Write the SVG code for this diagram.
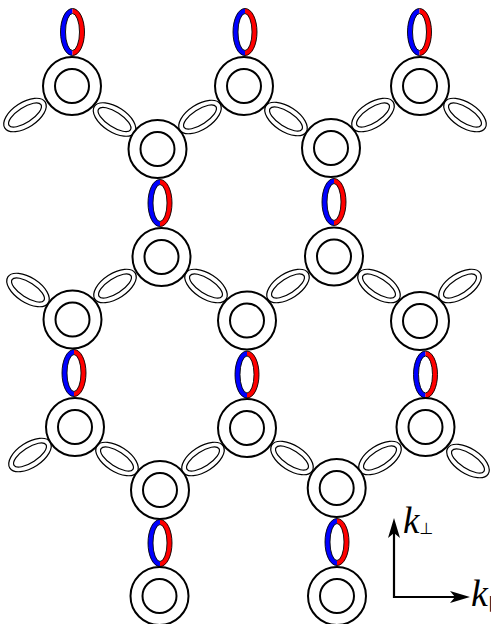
<svg xmlns="http://www.w3.org/2000/svg" xmlns:xlink="http://www.w3.org/1999/xlink" width="491" height="624" viewBox="0 0 491 624">
<style>
.nc{fill:#fff;stroke:#000;stroke-width:2}
.tel{fill:#fff;stroke:#000;stroke-width:1.2}
.bl{fill:none;stroke:#0000ff;stroke-width:5}
.rd{fill:none;stroke:#ff0000;stroke-width:5}
.ol{fill:none;stroke:#000;stroke-width:0.9}
.ax{fill:none;stroke:#000;stroke-width:2.2}
.lbl{font-family:"Liberation Serif",serif;font-style:italic;fill:#000}
</style>
<defs>
<g id="vr">
<ellipse rx="12" ry="23.5" fill="#fff" stroke="none"/>
<path class="bl" d="M0,-21 A9.5,21 0 0 0 0,21"/>
<path class="rd" d="M0,-21 A9.5,21 0 0 1 0,21"/>
<ellipse class="ol" rx="12" ry="23.5"/>
<ellipse class="ol" rx="7" ry="18.5"/>
</g>
<g id="te"><ellipse class="tel" rx="24" ry="12.5"/><ellipse class="tel" rx="19" ry="7.5"/></g>
<g id="nd"><circle class="nc" r="29"/><circle class="nc" r="17"/></g>
<marker id="ah" viewBox="0 0 20 12" refX="5" refY="6" markerWidth="20" markerHeight="12" markerUnits="userSpaceOnUse" orient="auto-start-reverse">
<path d="M0,0 L20,6 L0,12 L5,6 z" fill="#000"/>
</marker>
</defs>
<g id="connectors">
<use xlink:href="#vr" href="#vr" transform="translate(72.5,32)"/>
<use xlink:href="#vr" href="#vr" transform="translate(245,32)"/>
<use xlink:href="#vr" href="#vr" transform="translate(419.5,32)"/>
<use xlink:href="#vr" href="#vr" transform="translate(160,203)"/>
<use xlink:href="#vr" href="#vr" transform="translate(334,202)"/>
<use xlink:href="#vr" href="#vr" transform="translate(74,373)"/>
<use xlink:href="#vr" href="#vr" transform="translate(247,374.5)"/>
<use xlink:href="#vr" href="#vr" transform="translate(425.5,374.5)"/>
<use xlink:href="#vr" href="#vr" transform="translate(160,543)"/>
<use xlink:href="#vr" href="#vr" transform="translate(337,542)"/>
<use xlink:href="#te" href="#te" transform="translate(25,115) rotate(-33)"/>
<use xlink:href="#te" href="#te" transform="translate(114.5,119.5) rotate(33)"/>
<use xlink:href="#te" href="#te" transform="translate(200,117) rotate(-33)"/>
<use xlink:href="#te" href="#te" transform="translate(286,119) rotate(33)"/>
<use xlink:href="#te" href="#te" transform="translate(373,115) rotate(-33)"/>
<use xlink:href="#te" href="#te" transform="translate(465,115) rotate(33)"/>
<use xlink:href="#te" href="#te" transform="translate(28,290) rotate(33)"/>
<use xlink:href="#te" href="#te" transform="translate(115,286) rotate(-33)"/>
<use xlink:href="#te" href="#te" transform="translate(206,286) rotate(33)"/>
<use xlink:href="#te" href="#te" transform="translate(288,286) rotate(-33)"/>
<use xlink:href="#te" href="#te" transform="translate(379,286) rotate(33)"/>
<use xlink:href="#te" href="#te" transform="translate(460,286) rotate(-33)"/>
<use xlink:href="#te" href="#te" transform="translate(30,455) rotate(-33)"/>
<use xlink:href="#te" href="#te" transform="translate(117,459) rotate(33)"/>
<use xlink:href="#te" href="#te" transform="translate(203,459) rotate(-33)"/>
<use xlink:href="#te" href="#te" transform="translate(292,458) rotate(33)"/>
<use xlink:href="#te" href="#te" transform="translate(380,458) rotate(-33)"/>
<use xlink:href="#te" href="#te" transform="translate(468,461) rotate(33)"/>
</g>
<g id="n1"><use xlink:href="#nd" href="#nd" x="72" y="86"/></g>
<g id="n2"><use xlink:href="#nd" href="#nd" x="244" y="86"/></g>
<g id="n3"><use xlink:href="#nd" href="#nd" x="420" y="86"/></g>
<g id="n4"><use xlink:href="#nd" href="#nd" x="157.5" y="149"/></g>
<g id="n5"><use xlink:href="#nd" href="#nd" x="331" y="148"/></g>
<g id="n6"><use xlink:href="#nd" href="#nd" x="161.5" y="257"/></g>
<g id="n7"><use xlink:href="#nd" href="#nd" x="334" y="256.5"/></g>
<g id="n8"><use xlink:href="#nd" href="#nd" x="72.5" y="319.5"/></g>
<g id="n9"><use xlink:href="#nd" href="#nd" x="247" y="320.5"/></g>
<g id="n10"><use xlink:href="#nd" href="#nd" x="420" y="321"/></g>
<g id="n11"><use xlink:href="#nd" href="#nd" x="75" y="427"/></g>
<g id="n12"><use xlink:href="#nd" href="#nd" x="247" y="428"/></g>
<g id="n13"><use xlink:href="#nd" href="#nd" x="425.5" y="427"/></g>
<g id="n14"><use xlink:href="#nd" href="#nd" x="160" y="490"/></g>
<g id="n15"><use xlink:href="#nd" href="#nd" x="336.7" y="488"/></g>
<g id="n16"><use xlink:href="#nd" href="#nd" x="159.5" y="596"/></g>
<g id="n17"><use xlink:href="#nd" href="#nd" x="337" y="596"/></g>
<g id="axes">
<path class="ax" d="M394,533 V597 H455" marker-start="url(#ah)" marker-end="url(#ah)"/>
<text class="lbl" x="403" y="533" font-size="37">k<tspan font-size="16" font-style="normal" font-family="DejaVu Sans, sans-serif" dy="1">⊥</tspan></text>
<text class="lbl" x="471" y="606" font-size="38">k<tspan font-size="16" font-style="normal" font-family="DejaVu Sans, sans-serif" dy="2">∥</tspan></text>
</g>
</svg>
